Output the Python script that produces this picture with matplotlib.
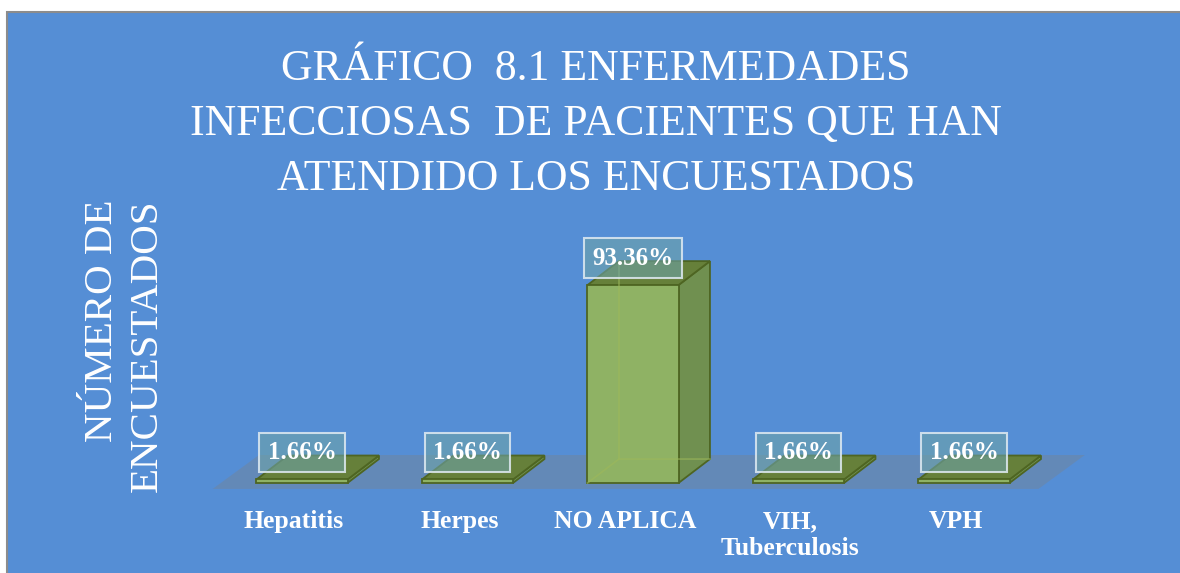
import matplotlib
matplotlib.use("Agg")
import matplotlib.pyplot as plt
from matplotlib.patches import Rectangle, Polygon

# ---------------- data ----------------
categories = ["Hepatitis", "Herpes", "NO APLICA", "VIH,\nTuberculosis", "VPH"]
values = [1.66, 1.66, 93.36, 1.66, 1.66]
value_labels = ["1.66%", "1.66%", "93.36%", "1.66%", "1.66%"]
title = "GRÁFICO  8.1 ENFERMEDADES\nINFECCIOSAS  DE PACIENTES QUE HAN\nATENDIDO LOS ENCUESTADOS"
ylabel = "NÚMERO DE\nENCUESTADOS"

# ---------------- style ----------------
W, H = 1180, 573
BG = "#558ED5"
FRONT = "#8FB264"
SIDE = "#709050"
TOP = "#66803A"
EDGE = "#4E6522"
SERIF = ["Liberation Serif", "DejaVu Serif"]

fig = plt.figure(figsize=(W / 100, H / 100), dpi=100)
fig.patch.set_facecolor("white")
fig.patches.append(Rectangle((7 / W, -0.01), 1.0, (H - 12) / H + 0.01,
                             transform=fig.transFigure, fc=BG, ec="#8C8C8C",
                             lw=1.5, zorder=-10))

# axes: x unit = 165.5 px, y unit = 2.12 px per %
XL, XR = -0.6, 4.9
ax = fig.add_axes([202.7 / W, 47.6 / H, (XR - XL) * 165.5 / W, 275.6 / H])
ax.set_xlim(XL, XR)
ax.set_ylim(-20, 110)
ax.axis("off")
ax.patch.set_alpha(0)

n = len(categories)
w = 0.55          # bar width (category units)
dx, dy = 0.19, 11.3   # depth offset

# floor
fl_left, fl_right = -0.54, n - 1 + 0.45
fl_front, fl_back, fl_shift = -2.8, 13.2, 0.28
ax.add_patch(Polygon([(fl_left, fl_front), (fl_right, fl_front),
                      (fl_right + fl_shift, fl_back), (fl_left + fl_shift, fl_back)],
                     closed=True, fc="#808080", ec="none", alpha=0.35, zorder=1))

for i, v in enumerate(values):
    x0, x1 = i - w / 2, i + w / 2
    # side face
    ax.add_patch(Polygon([(x1, 0), (x1 + dx, dy), (x1 + dx, v + dy), (x1, v)],
                         closed=True, fc=SIDE, ec=EDGE, lw=1.3, zorder=2))
    # top face
    ax.add_patch(Polygon([(x0, v), (x1, v), (x1 + dx, v + dy), (x0 + dx, v + dy)],
                         closed=True, fc=TOP, ec=EDGE, lw=1.3, zorder=2))
    # front face
    ax.bar(i, v, width=w, bottom=0, color=FRONT, edgecolor=EDGE, lw=1.3, zorder=3)
    # faint hidden edges
    if v > 10:
        ax.plot([x0 + dx, x0 + dx], [dy, v + dy], color="#9DB85A", lw=1.2, alpha=0.6, zorder=4)
        ax.plot([x0, x0 + dx, x1 + dx], [0, dy, dy], color="#9DB85A", lw=1.2, alpha=0.6, zorder=4)
    # value label
    ax.annotate(value_labels[i], xy=(i, v), xytext=(0, 27), textcoords="offset pixels",
                ha="center", va="center", fontsize=18, fontweight="bold", color="white",
                family=SERIF, zorder=6,
                bbox=dict(boxstyle="square,pad=0.33", fc=(0.43, 0.64, 0.66, 0.6),
                          ec=(0.88, 0.92, 0.95, 0.85), lw=1.5))
    # category label
    ax.annotate(categories[i], xy=(i, 0), xytext=(-8, -27), textcoords="offset pixels",
                ha="center", va="top", fontsize=18.5, fontweight="bold", color="white",
                family=SERIF, linespacing=1.2, annotation_clip=False)

fig.text(596 / W, (H - 124) / H, title, ha="center", va="center", color="white",
         fontsize=31.5, family=SERIF, linespacing=1.5)
fig.text(125 / W, (H - 346) / H, ylabel, ha="center", va="center", rotation=90,
         color="white", fontsize=29.5, family=SERIF, linespacing=1.3,
         multialignment="right")

fig.savefig("out.png", dpi=100, facecolor=fig.get_facecolor())
